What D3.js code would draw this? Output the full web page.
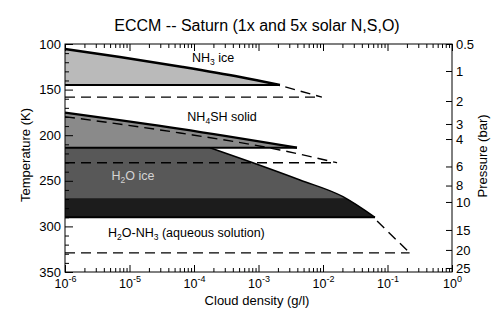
<!DOCTYPE html>
<html>
<head>
<meta charset="utf-8">
<script src="https://cdn.jsdelivr.net/npm/d3@7"></script>
<style>
  body { margin: 0; background: #fff; }
  text { font-family: "Liberation Sans", Arial, sans-serif; }
</style>
</head>
<body>
<script>
// chart values
var tempTicks = [100, 150, 200, 250, 300, 350];
var pressureLabels = ["0.5", "1", "2", "3", "4", "6", "8", "10", "15", "20", "25"];
var pressureTemps = [100, 129.6, 162.5, 187.7, 204.2, 234.3, 255.2, 273.2, 303.9, 325.8, 345.6];
var decadeExps = [-6, -5, -4, -3, -2, -1, 0];

// 1x solar clouds (solid), density in g/l and temperature in K
var nh3Density1x = [1e-6, 7.1e-6, 6.7e-5, 5.2e-4, 2.15e-3];
var nh3Temp1x = [105.5, 114.3, 125.2, 136.2, 145.0];
var nh4shDensity1x = [1e-6, 6.1e-5, 3.95e-3];
var nh4shTemp1x = [175.3, 193.1, 213.7];
var h2oDensity1x = [1.77e-4, 7.4e-4, 4.4e-3, 2.04e-2, 6.4e-2];
var h2oTemp1x = [213.7, 229.1, 249.1, 267.4, 290];
var aqueousTop1x = 269.2;

// 5x solar clouds (dashed), visible parts only
var nh3Density5x = [2.6e-3, 9.6e-3];
var nh3Temp5x = [147, 158.3];
var nh4shDensity5x = [1e-6, 6.1e-5, 2.15e-3, 1.65e-2];
var nh4shTemp5x = [179.7, 197.6, 216.2, 230.2];
var h2oDensity5x = [6.9e-2, 2.2e-1];
var h2oTemp5x = [294, 329];

drawChart();

function drawChart(){

    var width = 500,
        height = 322;
    var pLeft = 65, pRight = 452, pTop = 44, pBottom = 272;

    var svg = d3.select("body")
        .append("svg")
        .attr("width", width)
        .attr("height", height);

    var x = d3.scaleLog().domain([1e-6, 1]).range([pLeft, pRight]);
    var y = d3.scaleLinear().domain([100, 350]).range([pTop, pBottom]);

    var line = d3.line()
        .x(function(d){ return x(d[0]); })
        .y(function(d){ return y(d[1]); })
        .curve(d3.curveMonotoneX);

    function pts(dens, temps) {
        return dens.map(function(d, i){ return [d, temps[i]]; });
    }

    //closed shape: left edge, profile, base line back to left edge
    function cloudArea(dens, temps) {
        var base = temps[temps.length - 1];
        var s = line(pts(dens, temps));
        return "M" + x(1e-6) + "," + y(temps[0]) + "L" + s.slice(1) +
            "L" + x(1e-6) + "," + y(base) + "Z";
    }

    function baseLine(dens, temps) {
        var base = temps[temps.length - 1];
        return "M" + x(1e-6) + "," + y(base) + "L" + x(dens[dens.length - 1]) + "," + y(base);
    }

    // fills
    svg.append("path").attr("d", cloudArea(h2oDensity1x, h2oTemp1x)).attr("fill", "#585858");

    svg.append("clipPath").attr("id", "aq")
        .append("rect")
        .attr("x", pLeft).attr("width", pRight - pLeft)
        .attr("y", y(aqueousTop1x))
        .attr("height", y(h2oTemp1x[h2oTemp1x.length - 1]) - y(aqueousTop1x));
    svg.append("path").attr("d", cloudArea(h2oDensity1x, h2oTemp1x))
        .attr("fill", "#1c1c1c").attr("clip-path", "url(#aq)");

    svg.append("path").attr("d", cloudArea(nh4shDensity1x, nh4shTemp1x)).attr("fill", "#8a8a8a");
    svg.append("path").attr("d", cloudArea(nh3Density1x, nh3Temp1x)).attr("fill", "#bababa");

    // solid outlines (1x)
    [[nh3Density1x, nh3Temp1x, 2.5], [nh4shDensity1x, nh4shTemp1x, 2.2], [h2oDensity1x, h2oTemp1x, 1.5]]
        .forEach(function(c){
            svg.append("path").attr("d", line(pts(c[0], c[1])))
                .attr("fill", "none").attr("stroke", "#000").attr("stroke-width", c[2]);
            svg.append("path").attr("d", baseLine(c[0], c[1]))
                .attr("fill", "none").attr("stroke", "#000").attr("stroke-width", 2);
        });

    // dashed outlines (5x)
    [[nh3Density5x, nh3Temp5x], [nh4shDensity5x, nh4shTemp5x], [h2oDensity5x, h2oTemp5x]]
        .forEach(function(c){
            svg.append("path").attr("d", line(pts(c[0], c[1])) + baseLine(c[0], c[1]))
                .attr("fill", "none").attr("stroke", "#000").attr("stroke-width", 1.4)
                .attr("stroke-dasharray", "10,6");
        });

    // frame
    svg.append("rect").attr("x", pLeft).attr("y", pTop)
        .attr("width", pRight - pLeft).attr("height", pBottom - pTop)
        .attr("fill", "none").attr("stroke", "#000").attr("stroke-width", 1);

    // x axes (bottom and top), ticks point inward
    var decades = decadeExps.map(function(e){ return Math.pow(10, e); });
    var minors = x.ticks().filter(function(v){
        return Math.abs(Math.log10(v) - Math.round(Math.log10(v))) > 1e-6;
    });

    function styleAxis(g) {
        g.select(".domain").remove();
        g.selectAll("line").attr("stroke", "#000");
    }

    var gx = svg.append("g").attr("transform", "translate(0," + pBottom + ")")
        .call(d3.axisBottom(x).tickValues(decades).tickSize(-7).tickFormat(""))
        .call(styleAxis);
    svg.append("g").attr("transform", "translate(0," + pBottom + ")")
        .call(d3.axisBottom(x).tickValues(minors).tickSize(-4).tickFormat(""))
        .call(styleAxis);
    svg.append("g").attr("transform", "translate(0," + pTop + ")")
        .call(d3.axisTop(x).tickValues(decades).tickSize(-7).tickFormat(""))
        .call(styleAxis);
    svg.append("g").attr("transform", "translate(0," + pTop + ")")
        .call(d3.axisTop(x).tickValues(minors).tickSize(-4).tickFormat(""))
        .call(styleAxis);

    gx.selectAll(".tick").each(function(d, i){
        var t = d3.select(this).append("text")
            .attr("y", 16).attr("fill", "#000").attr("font-size", 12.5)
            .attr("text-anchor", "middle");
        t.append("tspan").text("10");
        t.append("tspan").attr("dy", -6).attr("font-size", 9).text(decadeExps[i]);
    });

    // left temperature axis
    var gy = svg.append("g").attr("transform", "translate(" + pLeft + ",0)")
        .call(d3.axisLeft(y).tickValues(tempTicks).tickSize(-8).tickPadding(4))
        .call(styleAxis);
    gy.selectAll("text").attr("font-size", 13).attr("fill", "#000");
    svg.append("g").attr("transform", "translate(" + pLeft + ",0)")
        .call(d3.axisLeft(y).tickValues(d3.range(110, 350, 10).filter(function(v){ return v % 50; }))
            .tickSize(-4).tickFormat(""))
        .call(styleAxis);

    // right pressure axis
    var gp = svg.append("g").attr("transform", "translate(" + pRight + ",0)")
        .call(d3.axisRight(y).tickValues(pressureTemps).tickSize(-6).tickPadding(4)
            .tickFormat(function(d, i){ return pressureLabels[i]; }))
        .call(styleAxis);
    gp.selectAll("text").attr("font-size", 13).attr("fill", "#000");

    // titles
    svg.append("text").attr("x", 257).attr("y", 31).attr("text-anchor", "middle")
        .attr("font-size", 16).text("ECCM -- Saturn (1x and 5x solar N,S,O)");
    svg.append("text").attr("x", 257).attr("y", 305).attr("text-anchor", "middle")
        .attr("font-size", 13).text("Cloud density (g/l)");
    svg.append("text").attr("transform", "translate(30,155) rotate(-90)").attr("text-anchor", "middle")
        .attr("font-size", 13).text("Temperature (K)");
    svg.append("text").attr("transform", "translate(487,156) rotate(-90)").attr("text-anchor", "middle")
        .attr("font-size", 13).text("Pressure (bar)");

    // labels inside the plot
    function chem(xp, yp, parts, color, anchor) {
        var t = svg.append("text").attr("x", xp).attr("y", yp).attr("font-size", 12.5)
            .attr("fill", color).attr("text-anchor", anchor || "middle");
        parts.forEach(function(p){
            if (p.sub) {
                t.append("tspan").attr("dy", 3).attr("font-size", 8.5).text(p.t);
            } else {
                t.append("tspan").attr("dy", p.after ? -3 : 0).text(p.t);
            }
        });
    }
    chem(213, 62, [{t: "NH"}, {t: "3", sub: true}, {t: " ice", after: true}], "#000");
    chem(222, 121, [{t: "NH"}, {t: "4", sub: true}, {t: "SH solid", after: true}], "#000");
    chem(133, 180, [{t: "H"}, {t: "2", sub: true}, {t: "O ice", after: true}], "#d4d4d4");
    chem(108, 237, [{t: "H"}, {t: "2", sub: true}, {t: "O-NH", after: true}, {t: "3", sub: true},
        {t: " (aqueous solution)", after: true}], "#000", "start");
}
</script>
</body>
</html>
